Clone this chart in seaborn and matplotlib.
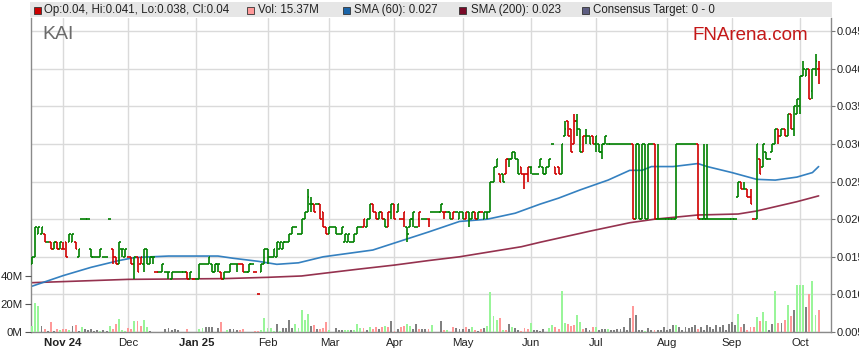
import numpy as np
import pandas as pd
import matplotlib
matplotlib.use("Agg")
import matplotlib.pyplot as plt
from matplotlib.patches import Rectangle
import seaborn as sns

# ---------------- data (prices in thousandths of a dollar) ----------------
start_date = "2024-10-18"

opens = [14,15,18,18,18,17,17,16,17,16,
         16,17,17,17,17,15,20,20,20,16,
         15,15,15,15,15,20,16,15,14,16,
         15,15,15,14,15,14,14,16,14,15,
         13,13,13,13,13,12,13,13,13,13,
         13,12,12,12,12,14,14,14,14,13,
         14,13,12,13,13,14,14,14,14,13,
         13,14,13,10,13,14,16,15,15,15,
         16,16,17,17,18,19,18,18,20,21,
         22,22,22,22,21,19,18,19,19,18,
         18,17,17,17,17,18,19,19,19,20,
         22,21,20,21,20,19,21,22,21,20,
         20,19,19,20,19,20,20,20,20,21,
         21,21,21,21,21,21,20,21,20,21,
         20,21,20,21,20,21,20,21,21,25,
         27,26,26,26,28,28,29,28,27,26,
         26,27,26,26,27,27,26,27,30,27,
         27,26,31,33,32,30,33,32,29,31,
         31,31,30,30,29,30,30,30,30,30,
         30,30,30,30,30,20,30,20,30,20,
         30,30,20,20,20,20,20,20,20,30,
         30,30,30,30,30,30,20,20,20,20,
         20,20,20,20,20,20,20,20,23,25,
         24,24,23,20,20,28,27,29,28,29,
         30,32,31,32,31,34,32,34,35,39,
         39,40,37,40,40]
highs = [15,19,19,19,18,17,17,17,17,17,
         17,17,18,18,17,16,20,20,20,16,
         15,15,16,15,15,20,16,15,17,16,
         16,15,15,15,15,15,16,16,15,15,
         13,13,14,13,13,13,13,13,13,13,
         13,13,12,12,14,14,14,15,14,14,
         14,13,13,13,14,14,14,14,14,13,
         14,14,13,10,14,16,16,15,16,17,
         17,17,17,18,19,19,18,20,21,24,
         23,22,22,22,21,19,19,19,19,18,
         19,18,18,17,18,19,19,20,20,22,
         22,21,21,21,20,21,22,22,22,20,
         21,19,20,21,19,21,20,20,20,21,
         21,21,22,21,21,21,21,21,21,21,
         21,21,21,21,21,21,21,21,25,27,
         28,26,26,28,28,29,29,28,27,26,
         27,27,26,26,28,27,27,28,30,27,
         27,30,33,33,32,34,34,32,31,32,
         31,31,31,30,30,31,30,30,30,30,
         30,30,30,30,30,30,30,30,30,30,
         30,30,30,20,20,20,20,20,30,30,
         30,30,30,30,30,30,20,30,30,20,
         20,20,20,20,20,20,20,20,25,25,
         25,24,24,20,30,28,30,29,28,30,
         32,32,32,32,34,34,35,36,39,41,
         40,40,40,42,41]
lows = [14,15,18,18,17,17,16,16,16,16,
        16,15,17,17,16,15,20,20,20,15,
        15,15,15,15,15,20,14,14,14,15,
        15,15,14,12,13,14,13,14,14,14,
        13,13,13,13,12,12,13,13,13,13,
        12,12,12,12,12,14,14,14,13,13,
        13,12,12,13,13,14,13,14,13,13,
        13,14,13,10,13,14,14,15,15,15,
        16,16,17,17,18,19,18,18,20,21,
        21,21,22,20,19,18,18,19,18,18,
        18,17,17,17,17,18,19,19,19,20,
        21,20,20,20,19,19,20,20,21,20,
        19,17,19,19,19,19,20,20,19,21,
        21,21,21,20,21,20,20,21,20,20,
        20,19,20,20,20,21,20,20,21,25,
        27,25,25,26,27,28,28,26,26,24,
        25,26,26,26,27,26,26,27,30,26,
        26,26,31,31,29,30,31,29,29,30,
        30,30,29,29,28,30,30,30,30,30,
        30,30,30,30,20,20,20,20,20,20,
        30,20,20,20,20,20,20,20,20,30,
        30,30,30,30,30,20,20,20,20,20,
        20,20,20,20,20,20,20,20,23,24,
        24,23,22,20,20,26,27,28,28,29,
        30,30,31,31,31,32,31,34,34,39,
        39,36,36,39,38]
closes = [15,19,19,19,17,17,16,17,16,17,
          16,15,18,18,16,16,20,20,20,15,
          15,15,16,15,15,20,15,14,17,16,
          16,15,14,15,13,15,16,14,15,15,
          13,13,14,13,13,13,13,13,13,13,
          12,13,12,12,14,14,14,15,13,14,
          14,12,13,13,14,14,14,14,13,13,
          14,14,13,10,14,16,15,15,16,17,
          17,17,17,18,19,19,18,20,21,23,
          22,21,22,20,19,18,19,19,18,18,
          19,18,18,17,18,19,19,20,20,22,
          21,20,21,20,19,21,22,20,22,20,
          21,18,20,21,19,21,20,20,20,21,
          21,21,22,21,21,20,21,21,21,20,
          21,20,21,20,21,21,21,21,25,27,
          28,25,25,28,28,29,28,26,26,26,
          27,27,26,26,28,26,27,28,30,26,
          26,30,32,31,29,33,32,29,31,31,
          30,30,31,29,30,31,30,30,30,30,
          30,30,30,30,20,30,20,30,20,30,
          30,20,20,20,20,20,20,20,30,30,
          30,30,30,30,30,20,20,20,20,20,
          20,20,20,20,20,20,20,20,25,24,
          24,23,22,20,30,26,30,28,28,30,
          32,31,32,31,34,32,35,36,39,40,
          40,36,40,41,40]
volumes_m = [4.3,20.5,18.6,4.3,2.1,0.7,7.1,1.0,2.1,1.2,
             1.9,2.1,1.4,4.3,5.0,0.7,3.3,2.1,1.2,2.1,
             1.0,1.2,1.0,1.2,1.0,4.3,2.4,5.7,9.3,1.2,
             1.0,2.6,1.9,7.9,7.9,4.3,8.6,3.3,1.0,0.3,
             0.3,0.3,0.3,2.4,2.9,1.2,1.9,1.2,0.3,0.3,
             2.4,0.3,0.3,0.3,2.1,2.9,3.3,3.6,3.6,0.3,
             2.9,7.4,0.3,1.4,2.1,2.4,1.4,1.2,2.1,0.3,
             0.3,0.3,1.0,1.0,1.7,10.0,3.1,3.1,0.7,6.0,
             1.0,2.9,3.1,8.6,3.1,6.0,3.1,15.7,8.6,13.1,
             4.3,4.8,2.1,2.4,3.1,7.1,1.4,0.3,2.6,1.4,
             1.2,1.2,1.4,1.4,1.7,5.7,3.1,3.1,1.4,3.3,
             1.9,3.3,2.4,3.3,4.0,3.3,7.9,1.0,2.1,3.6,
             4.0,5.7,4.5,2.1,5.7,1.9,2.1,2.1,2.1,5.0,
             0.3,0.3,8.1,1.4,1.4,0.3,3.6,2.9,2.4,2.4,
             3.6,2.4,3.6,1.4,0.7,2.1,2.9,4.3,28.8,11.4,
             8.6,9.8,1.4,1.4,5.7,3.6,2.9,1.4,0.7,2.9,
             2.4,6.2,1.4,1.4,0.7,1.9,0.3,2.9,4.8,3.6,
             2.4,29.5,6.4,5.7,4.5,5.0,12.1,7.4,2.4,2.6,
             1.7,3.6,3.6,1.4,2.1,2.1,2.1,1.4,1.4,2.1,
             2.1,3.6,1.4,10.0,18.6,12.1,1.4,1.4,0.7,2.9,
             1.4,1.4,1.4,1.4,3.6,1.4,2.4,5.0,5.0,3.6,
             1.4,3.6,2.9,3.6,4.8,2.4,3.6,1.4,4.8,3.6,
             2.4,5.0,3.6,5.0,1.4,6.0,7.1,4.8,12.9,3.6,
             5.7,1.4,3.6,3.6,10.9,8.1,14.3,7.9,1.4,5.7,
             29.5,6.4,6.4,8.6,19.3,11.4,15.7,33.6,33.6,33.6,
             17.9,27.1,36.4,12.1,15.37]
# u = up day, d = down day, n = unchanged
moves = list("uuundndndu" "ddundnunnn" "nnunnuddau".replace("a", "u") +
             "uddudduunn" "dnnnnnnnnn" "dndnuunnnn" "ndnunnnddn"
             "nnddguuuun".replace("g", "u") + "unnnnuuuuu" "ndnddduunn"
             "nuunuuudnu" "ddndudndnd" "duunndnndu" "nnndundnnn"
             "dnudndnuuu" "ududnunndd" "dunnnnnuud" "duuddduudn"
             "ndunnnunnn" "nnnndnnnun" "ndnnnnnnun" "nnnnndnnnn"
             "nnnnnnnnud" "nddduduunn" "udndudnuuu" "nduud")

sma60_pos = [0, 10, 19, 28, 33, 44, 60, 65, 73, 79, 86, 94, 110, 128, 138, 147, 156,
             164, 170, 177, 186, 193, 197, 200, 207, 215, 218, 226, 234, 240, 247, 252, 254]
sma60_val = [0.0111, 0.0125, 0.0136, 0.0145, 0.0149, 0.0151, 0.0151, 0.0148, 0.0144,
             0.0140, 0.0142, 0.0150, 0.0159, 0.0183, 0.0197, 0.0200, 0.0208, 0.0220,
             0.0228, 0.0239, 0.0252, 0.0265, 0.0265, 0.0270, 0.0270, 0.0274, 0.0270,
             0.0262, 0.0253, 0.0252, 0.0256, 0.0262, 0.0270]
sma200_pos = [0, 31, 62, 76, 87, 94, 105, 117, 128, 138, 158, 164, 177, 180, 193, 201,
              215, 228, 234, 247, 254]
sma200_val = [0.01156, 0.0120, 0.0121, 0.01227, 0.01245, 0.0128, 0.01334, 0.0139,
              0.0145, 0.0150, 0.01634, 0.01693, 0.01812, 0.0184, 0.01953, 0.0200,
              0.02056, 0.02069, 0.02109, 0.02233, 0.0231]

month_labels = ["Nov 24", "Dec", "Jan 25", "Feb", "Mar", "Apr", "May", "Jun",
                "Jul", "Aug", "Sep", "Oct"]
price_ticks = [0.005, 0.010, 0.015, 0.020, 0.025, 0.030, 0.035, 0.040, 0.045]
volume_ticks = [0, 20, 40]
ticker = "KAI"

# ---------------- styling ----------------
sns.set_style("white")
plt.rcParams["font.family"] = ["Liberation Sans", "DejaVu Sans"]

W, H = 859, 363
fig = plt.figure(figsize=(W / 100, H / 100), dpi=100)
L, R, T, B = 31, 831, 18, 332
ax = fig.add_axes([L / W, 1 - B / H, (R - L) / W, (B - T) / H])
axv = ax.twinx()

n = len(closes)
x = np.arange(n)
o = np.array(opens) / 1000
h = np.array(highs) / 1000
lo = np.array(lows) / 1000
c = np.array(closes) / 1000
mv = np.array(moves[:n])

GREEN, RED = "#008000", "#d00000"
pcol = [RED if m == "d" else GREEN for m in mv]
vmap = {"u": "#99f599", "d": "#ff9999", "n": "#808080"}
vcol = [vmap[m] for m in mv]

# grid
ax.set_axisbelow(True)
ax.grid(True, color="#dadada", linewidth=1.0)

# SMA lines
sns.lineplot(x=sma200_pos, y=sma200_val, ax=ax, color="#8a1c3c", linewidth=1.2,
             sort=False, estimator=None, alpha=0.9)
sns.lineplot(x=sma60_pos, y=sma60_val, ax=ax, color="#2a7abd", linewidth=1.2,
             sort=False, estimator=None, alpha=0.95)

# OHLC bars
lw = 1.2
tick = 0.55
ax.vlines(x, lo, h, colors=pcol, linewidth=lw, zorder=3)
ax.hlines(o, x - tick, x, colors=pcol, linewidth=lw, zorder=3)
ax.hlines(c, x, x + tick, colors=pcol, linewidth=lw, zorder=3)

# volume bars
axv.bar(x, volumes_m, width=0.62, color=vcol, linewidth=0, zorder=2)

# limits
ax.set_xlim(-0.4, 258.0)
ax.set_ylim(0.005, 0.005 + (B - T) / 7520)
axv.set_ylim(0, (B - T) / 1.4)

# x ticks at month starts
dates = pd.bdate_range(start_date, periods=n)
month_pos = [i for i in range(1, n) if dates[i].month != dates[i - 1].month]
ax.set_xticks(month_pos[:len(month_labels)])
ax.set_xticklabels(month_labels)
for lab in ax.get_xticklabels():
    if any(ch.isdigit() for ch in lab.get_text()):
        lab.set_fontweight("bold")
ax.tick_params(axis="x", length=0, labelsize=8.2, labelcolor="#222222", pad=4)

# price axis on right
ax.set_yticks(price_ticks)
ax.set_yticklabels([f"{v:.3f}" for v in price_ticks])
ax.yaxis.tick_right()
ax.tick_params(axis="y", right=True, left=False, labelright=True, labelleft=False,
               length=3, color="#777777", labelsize=8.0, labelcolor="#222222", pad=1)

# volume axis on left
axv.yaxis.tick_left()
axv.set_yticks(volume_ticks)
axv.set_yticklabels([f"{v}M" for v in volume_ticks])
axv.tick_params(axis="y", left=True, right=False, labelleft=True, labelright=False,
                length=4, color="#555555", labelsize=8.2, labelcolor="#222222", pad=2)

for sp in ["left", "right", "bottom"]:
    ax.spines[sp].set_color("#8a8a8a")
    ax.spines[sp].set_linewidth(1.0)
ax.spines["top"].set_visible(False)
for sp in axv.spines.values():
    sp.set_visible(False)
ax.set_xlabel("")
ax.set_ylabel("")
axv.set_ylabel("")

# ---------------- header / legend strip ----------------
def fx(px):
    return px / W

def fy(py):
    return 1 - py / H

fig.add_artist(Rectangle((fx(30), fy(17)), (R + 1 - 30) / W, 15 / H,
                         transform=fig.transFigure, facecolor="#e6e6e6",
                         edgecolor="none"))
legend_items = [
    (34, "#cc0000", 44, f"Op:{opens[-1]/1000:g}, Hi:{highs[-1]/1000:g}, "
                        f"Lo:{lows[-1]/1000:g}, Cl:{closes[-1]/1000:g}"),
    (247, "#ff9999", 258, f"Vol: {volumes_m[-1]:.2f}M"),
    (343, "#1a64a8", 354, f"SMA (60): {sma60_val[-1]:.3f}"),
    (459, "#7a0a28", 471, f"SMA (200): {sma200_val[-1]:.3f}"),
    (582, "#5e5e82", 593, "Consensus Target: 0 - 0"),
]
for sx, col, tx, txt in legend_items:
    fig.add_artist(Rectangle((fx(sx), fy(13.5)), 6.5 / W, 6.5 / H,
                             transform=fig.transFigure, facecolor=col,
                             edgecolor="#333333", linewidth=0.6))
    fig.text(fx(tx), fy(10.2), txt, fontsize=8.3, color="#222222",
             va="center", ha="left")

fig.text(fx(42), fy(39), ticker, fontsize=14, color="#6b6b6b", va="baseline")
fig.text(fx(808), fy(40), "FNArena.com", fontsize=13.5, color="#c41818",
         va="baseline", ha="right")

fig.savefig("out.png", dpi=100)
